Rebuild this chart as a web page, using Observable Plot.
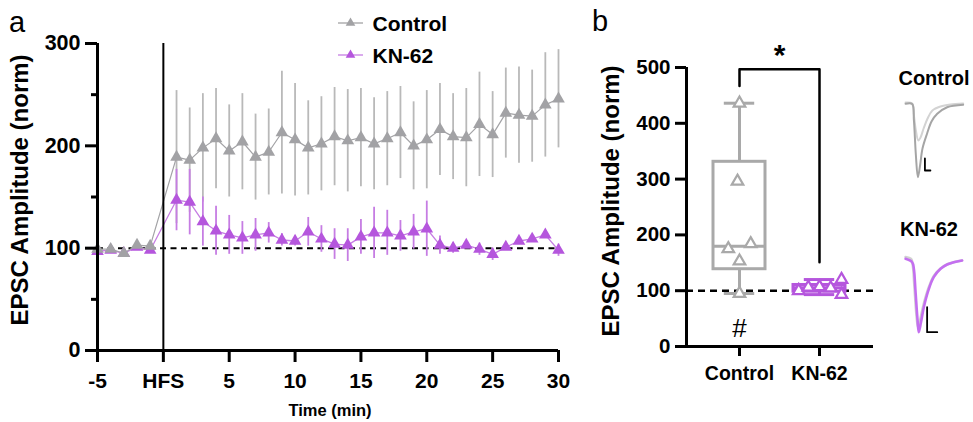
<!DOCTYPE html>
<html><head><meta charset="utf-8">
<script src="https://cdn.jsdelivr.net/npm/d3@7"></script>
<script src="https://cdn.jsdelivr.net/npm/@observablehq/plot@0.6"></script>
<style>
body{margin:0;background:#fff;}
#fig{position:relative;width:973px;height:422px;overflow:hidden;font-family:"Liberation Sans",Arial,Helvetica,sans-serif;color:#000;}
.abs{position:absolute;}
.abs svg{display:block;}
.letter{position:absolute;font-size:29px;line-height:1;}
.ytitle{position:absolute;font-size:24px;font-weight:bold;white-space:nowrap;transform:translate(-50%,-50%) rotate(-90deg);}
.lbl{position:absolute;font-weight:bold;white-space:nowrap;transform:translate(-50%,-50%);}
</style></head><body><div id="fig"></div>
<script>
// ---------- Panel a data ----------
const timeMin = [-5,-4,-3,-2,-1,1,2,3,4,5,6,7,8,9,10,11,12,13,14,15,16,17,18,19,20,21,22,23,24,25,26,27,28,29,30];
const controlMean = [99,99,95,103,102,189,186,198,207,195,204,189,194,213,206,198,202,209,205,208,202,207,213,200,206,216,209,208,221,211,232,230,229,240,246];
const controlSem  = [3,3,3,3,3,65,51,53,49,45,47,42,42,60,55,46,46,48,50,48,45,46,45,43,48,45,42,48,51,42,44,47,45,51,48];
const kn62Mean = [97,98,95,101,98,147,145,126,117,113,110,113,115,108,107,116,109,104,103,111,115,115,112,116,119,103,100,103,99,94,101,107,109,113,98];
const kn62Sem  = [3,3,3,3,3,30,32,24,24,19,16,16,10,6,5,14,13,15,16,17,25,22,15,17,27,9,5,3,6,6,3,3,3,3,6];
const seriesNames = ["Control","KN-62"];
const xTicks = [-5,0,5,10,15,20,25,30];
const xTickLabels = ["-5","HFS","5","10","15","20","25","30"];
const yTicksA = [0,100,200,300];
const yMinorA = [50,150,250];

// ---------- Panel b data ----------
const groupNames = ["Control","KN-62"];
const controlCells = [436,296,175,184,153,95];
const kn62Cells    = [100,106,107,105,120,93];
// horizontal scatter spread of the dots inside each group (fraction of group slot)
const controlSpread = [0,-0.025,-0.14,0.14,0,0];
const kn62Spread    = [-0.26,-0.14,0,0.14,0.275,0.275];
const yTicksB = [0,100,200,300,400,500];

// ---------- Representative traces (time ms, current) ----------
const ctrlPostT = [2.3,5.3,6.1,7.0,7.9,8.9,10,12.1,14.1,16.7,21.2,28.5];
const ctrlPostI = [-3.3,-3.5,-20,-55,-76.7,-65,-48,-33,-21,-13.3,-6.7,-4.3];
const ctrlPreT  = [2.3,5.3,6.1,7.0,8.1,9.1,10.5,12.3,14.5,18.2,22.7,28.5];
const ctrlPreI  = [-2,-3,-15,-30,-40,-37,-28,-18,-10,-6,-4,-3];
const knPostT = [2.3,5.3,6.05,6.8,7.7,8.3,9.3,10.6,12.9,15.1,18.2,21.2,24.2,28];
const knPostI = [-3.3,-6.7,-13,-35,-63,-76.7,-67,-51.7,-33.3,-21.7,-13.3,-9,-6.7,-5];
const knPreT = [2.3,4.8,5.6,6.3,7.2,8.0,9.0,10.5,13,15.3,18.5,21.5,24.5,28];
const knPreI = [-1.5,-3.5,-10,-30,-58,-72,-64,-49,-31,-20,-12.5,-8.5,-6.5,-5];
const ctrlScaleBar = [[11.1,-58],[11.1,-70],[13.6,-70]];
const knScaleBar   = [[12.1,-51.7],[12.1,-76.7],[16.7,-76.7]];

const GREY = "#a2a2a5", GREY_BAR = "#b9b9b9", PURPLE = "#b556dd", PURPLE_BAR = "#c67de3", BOXGREY = "#a9a9a9";
const FONT = "'Liberation Sans', Arial, Helvetica, sans-serif";
const fig = document.getElementById("fig");
function place(node, left, top){ const d=document.createElement("div"); d.className="abs"; d.style.left=left+"px"; d.style.top=top+"px"; d.appendChild(node); fig.appendChild(d); return d; }
function label(text, cls, x, y, size, extra){ const d=document.createElement("div"); d.className=cls; d.textContent=text; d.style.left=x+"px"; d.style.top=y+"px"; if(size) d.style.fontSize=size+"px"; if(extra) Object.assign(d.style, extra); fig.appendChild(d); return d; }

// ---------- Panel a ----------
const ctrlRows = timeMin.map((t,i)=>({t, mean: controlMean[i], sem: controlSem[i]}));
const knRows = timeMin.map((t,i)=>({t, mean: kn62Mean[i], sem: kn62Sem[i]}));
const plotA = Plot.plot({
  width: 580, height: 422,
  marginLeft: 97, marginRight: 22, marginTop: 43, marginBottom: 72,
  x: {domain: [-5, 30]},
  y: {domain: [0, 300]},
  style: {fontFamily: FONT, background: "transparent", overflow: "visible"},
  marks: [
    Plot.ruleX(ctrlRows, {x: "t", y1: d => d.mean - d.sem, y2: d => d.mean + d.sem, stroke: GREY_BAR, strokeWidth: 1.8}),
    Plot.ruleY([100], {x1: -5, x2: 30, stroke: "#000", strokeWidth: 2, strokeDasharray: "6,4.5"}),
    Plot.ruleX(knRows, {x: "t", y1: d => d.mean - d.sem, y2: d => d.mean + d.sem, stroke: PURPLE_BAR, strokeWidth: 1.8}),
    Plot.line(knRows, {x: "t", y: "mean", stroke: PURPLE_BAR, strokeWidth: 1.3}),
    Plot.dot(knRows, {x: "t", y: "mean", symbol: "triangle", r: 4.7, fill: PURPLE}),
    Plot.line(ctrlRows, {x: "t", y: "mean", stroke: GREY, strokeWidth: 1.2}),
    Plot.dot(ctrlRows, {x: "t", y: "mean", symbol: "triangle", r: 4.7, fill: GREY}),
    Plot.ruleX([0], {y1: 0, y2: 300, stroke: "#000", strokeWidth: 2}),
    Plot.ruleX([-5], {y1: 0, y2: 300, stroke: "#000", strokeWidth: 3}),
    Plot.ruleY([0], {x1: -5, x2: 30, stroke: "#000", strokeWidth: 3}),
    Plot.axisY({ticks: yTicksA, tickSize: 12, tickPadding: 5, strokeWidth: 3, fontSize: 21.5, fontWeight: "bold", label: null}),
    Plot.axisY({ticks: yMinorA, tickSize: 6, strokeWidth: 3, tickFormat: null, text: null, label: null}),
    Plot.axisX({ticks: xTicks, tickFormat: d => xTickLabels[xTicks.indexOf(d)], tickSize: 12, tickPadding: 10.5, strokeWidth: 3, fontSize: 21, fontWeight: "bold", label: null})
  ]
});
place(plotA, 0, 0);

// legend
const leg = d3.create("svg").attr("width", 150).attr("height", 70);
const legItems = [{name: seriesNames[0], color: GREY, line: GREY, y: 23}, {name: seriesNames[1], color: PURPLE, line: PURPLE_BAR, y: 55}];
legItems.forEach(it => {
  leg.append("line").attr("x1", 8).attr("x2", 33).attr("y1", it.y).attr("y2", it.y).attr("stroke", it.line).attr("stroke-width", 1.3);
  leg.append("path").attr("d", d3.symbol(d3.symbolTriangle, 40)()).attr("transform", `translate(20.5,${it.y})`).attr("fill", it.color);
  leg.append("text").attr("x", 42.5).attr("y", it.y + 7.5).attr("font-family", FONT).attr("font-weight", "bold").attr("font-size", 21).text(it.name);
});
place(leg.node(), 330, 0);

label("a", "letter", 9, 8);
label("EPSC Amplitude (norm)", "ytitle", 20, 190);
label("Time (min)", "lbl", 330, 410, 16.5);

// ---------- Panel b ----------
function gpQuartiles(vals){
  const s = vals.slice().sort((a,b)=>a-b), n = s.length;
  const q = p => { const pos = p*(n+1); const lo = Math.floor(pos); const f = pos-lo;
    if (lo < 1) return s[0]; if (lo >= n) return s[n-1]; return s[lo-1] + f*(s[lo]-s[lo-1]); };
  return {min: s[0], q1: q(0.25), med: q(0.5), q3: q(0.75), max: s[n-1]};
}
const groups = [
  {g: 1, vals: controlCells, spread: controlSpread, color: BOXGREY},
  {g: 2, vals: kn62Cells, spread: kn62Spread, color: PURPLE}
].map(d => ({...d, ...gpQuartiles(d.vals)}));
const cells = groups.flatMap(d => d.vals.map((v,i) => ({x: d.g + d.spread[i], y: v, color: d.color})));
const BW = 0.325, CW = 0.19;
const xDomB = [0.3375, 2.675];
const bracket = [{x:1,y:467},{x:1,y:497},{x:2,y:497},{x:2,y:151}];
const plotB = Plot.plot({
  width: 300, height: 422,
  marginLeft: 106, marginRight: 7, marginTop: 67, marginBottom: 76,
  x: {domain: xDomB},
  y: {domain: [0, 500]},
  style: {fontFamily: FONT, background: "transparent", overflow: "visible"},
  marks: [
    Plot.ruleY([100], {x1: xDomB[0], x2: xDomB[1], stroke: "#000", strokeWidth: 2.5, strokeDasharray: "7,5"}),
    Plot.ruleX(groups, {x: "g", y1: "q3", y2: "max", stroke: "color", strokeWidth: 3}),
    Plot.ruleX(groups, {x: "g", y1: "min", y2: "q1", stroke: "color", strokeWidth: 3}),
    Plot.ruleY(groups, {y: "max", x1: d => d.g - CW, x2: d => d.g + CW, stroke: "color", strokeWidth: 3}),
    Plot.ruleY(groups, {y: "min", x1: d => d.g - CW, x2: d => d.g + CW, stroke: "color", strokeWidth: 3}),
    Plot.rect(groups, {x1: d => d.g - BW, x2: d => d.g + BW, y1: "q1", y2: "q3", stroke: "color", fill: "none", strokeWidth: 3}),
    Plot.ruleY(groups, {y: "med", x1: d => d.g - BW, x2: d => d.g + BW, stroke: "color", strokeWidth: 3}),
    Plot.dot(cells, {x: "x", y: "y", symbol: "triangle", r: 4.3, stroke: "color", fill: "white", strokeWidth: 2.2}),
    Plot.line(bracket, {x: "x", y: "y", stroke: "#000", strokeWidth: 2.5}),
    Plot.text(["*"], {x: 1.5, y: 530, fontSize: 30, fontWeight: "bold", dy: 5}),
    Plot.text(["#"], {x: 1, y: 32, fontSize: 26}),
    Plot.ruleX([xDomB[0]], {y1: 0, y2: 500, stroke: "#000", strokeWidth: 3}),
    Plot.ruleY([0], {x1: xDomB[0], x2: xDomB[1], stroke: "#000", strokeWidth: 3}),
    Plot.axisY({ticks: yTicksB, tickSize: 11, tickPadding: 5, strokeWidth: 3, fontSize: 20.5, fontWeight: "bold", label: null}),
    Plot.axisX({ticks: [1,2], tickFormat: d => groupNames[d-1], tickSize: 10, tickPadding: 9.5, strokeWidth: 3, fontSize: 19.5, fontWeight: "bold", label: null})
  ]
});
place(plotB, 580, 0);
label("b", "letter", 592, 7);
label("EPSC Amplitude (norm)", "ytitle", 611, 201);

// ---------- Traces ----------
function tracePlot(pre, post, bar, preColor, postColor, w){
  return Plot.plot({
    width: 66, height: 85, margin: 0,
    x: {domain: [0, 30], axis: null},
    y: {domain: [-80, 5], axis: null},
    style: {background: "transparent", overflow: "visible"},
    marks: [
      Plot.line(pre, {x: d => d[0], y: d => d[1], stroke: preColor, strokeWidth: w, curve: "catmull-rom"}),
      Plot.line(post, {x: d => d[0], y: d => d[1], stroke: postColor, strokeWidth: w, curve: "catmull-rom"}),
      Plot.line(bar, {x: d => d[0], y: d => d[1], stroke: "#000", strokeWidth: 1.8})
    ]
  });
}
const zip = (a,b) => a.map((v,i)=>[v,b[i]]);
place(tracePlot(zip(ctrlPreT, ctrlPreI), zip(ctrlPostT, ctrlPostI), ctrlScaleBar, "#d3d3d3", "#a5a5a5", 2), 900, 95);
place(tracePlot(zip(knPreT, knPreI), zip(knPostT, knPostI), knScaleBar, "#d0d0d0", "#c46ff0", 2.6), 900, 250);
label("Control", "lbl", 934, 78, 20);
label("KN-62", "lbl", 929, 229, 20);
</script></body></html>
